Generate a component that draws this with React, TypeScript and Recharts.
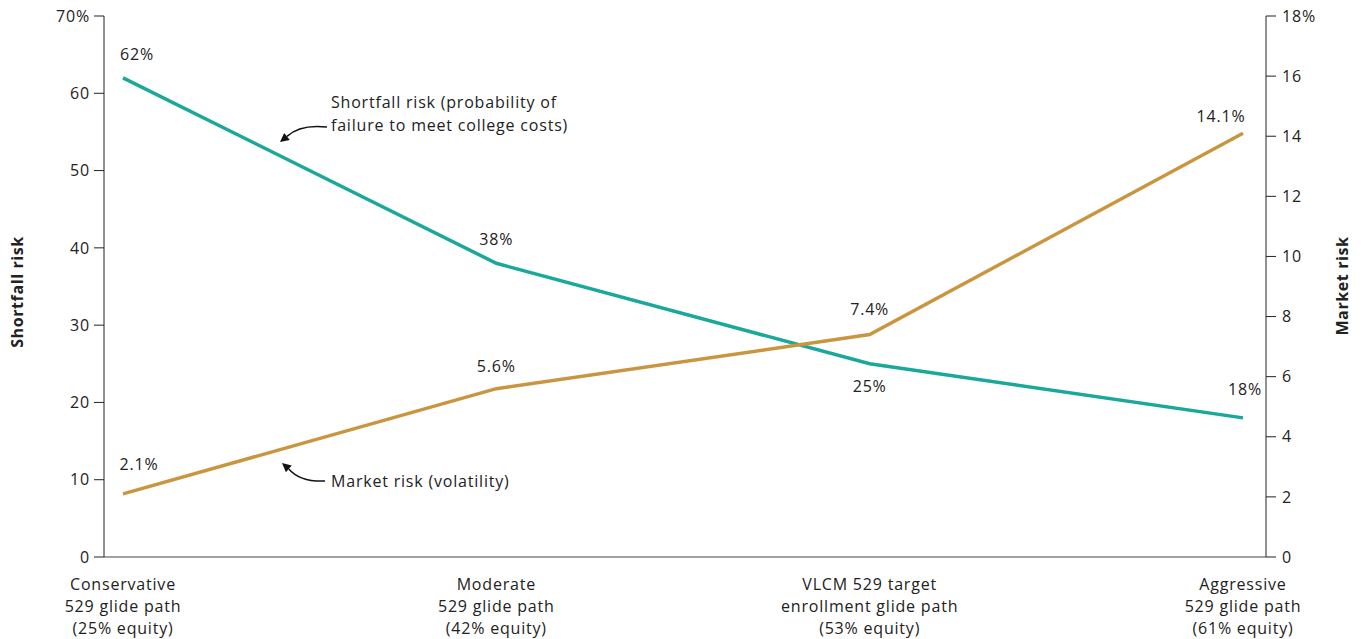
import React from 'react';
import { LineChart, Line, XAxis, YAxis, LabelList, Customized } from 'recharts';

// Glide path categories (multi-line tick labels)
const categories = [
  ['Conservative', '529 glide path', '(25% equity)'],
  ['Moderate', '529 glide path', '(42% equity)'],
  ['VLCM 529 target', 'enrollment glide path', '(53% equity)'],
  ['Aggressive', '529 glide path', '(61% equity)'],
];
const shortfallRisk = [62, 38, 25, 18];
const marketRisk = [2.1, 5.6, 7.4, 14.1];
const leftTicks = [0, 10, 20, 30, 40, 50, 60, 70];
const rightTicks = [0, 2, 4, 6, 8, 10, 12, 14, 16, 18];

const data = categories.map((c, i) => ({
  name: c.join('|'),
  shortfall: shortfallRisk[i],
  market: marketRisk[i],
}));

const FONT = '"Open Sans", "Noto Sans", sans-serif';
const LS = 0.8; // letter spacing to mimic the wider original face
const TEAL = '#1aa89b';
const GOLD = '#c9963f';
const TEXT = '#222';

// label nudges [dx, dy] per point
const shortfallLabelPos = [[14, -23], [0, -24], [0, 23], [2, -28]];
const marketLabelPos = [[16, -29], [0, -22], [0, -25], [-22, -17]];

const makeLabel = (pos: number[][], fmt: (v: number) => string) => (props: any) => {
  const { x, y, index, value } = props;
  const [dx, dy] = pos[index];
  return (
    <text x={x + dx} y={y + dy} dy="0.35em" textAnchor="middle" fontFamily={FONT} fontSize={16} letterSpacing={LS} fill={TEXT}>
      {fmt(value)}
    </text>
  );
};

const XTick = (props: any) => {
  const { x, y, payload } = props;
  const lines = String(payload.value).split('|');
  return (
    <g>
      {lines.map((l, i) => (
        <text key={i} x={x} y={y + 31 + i * 22} textAnchor="middle" fontFamily={FONT} fontSize={16} letterSpacing={LS} fill={TEXT}>
          {l}
        </text>
      ))}
    </g>
  );
};

const Annotations = () => (
  <g fontFamily={FONT} fontSize={16} fill={TEXT} letterSpacing={LS}>
    <text x={331} y={108}>Shortfall risk (probability of</text>
    <text x={331} y={131}>failure to meet college costs)</text>
    <path d="M 327 127 Q 300 124 287 136.4" fill="none" stroke="#111" strokeWidth={1.5} />
    <polygon points="280,142 289.8,139.9 284.2,132.9" fill="#111" />

    <text x={331} y={487}>Market risk (volatility)</text>
    <path d="M 325 481 Q 300 482 288.8 468.9" fill="none" stroke="#111" strokeWidth={1.5} />
    <polygon points="282,463 291.7,465.5 285.9,472.3" fill="#111" />

    <text x={17} y={292} dy="0.35em" transform="rotate(-90 17 292)" textAnchor="middle" fontWeight="bold" letterSpacing={0.6}>
      Shortfall risk
    </text>
    <text x={1342} y={286} dy="0.35em" transform="rotate(-90 1342 286)" textAnchor="middle" fontWeight="bold" letterSpacing={0.6}>
      Market risk
    </text>
  </g>
);

const tickStyle = { fontFamily: FONT, fontSize: 16, fill: TEXT, letterSpacing: LS };

export default function App() {
  return (
    <div style={{ position: 'absolute', left: 0, top: 0, background: '#fff' }}>
      <LineChart width={1361} height={639} data={data} margin={{ top: 16, right: 31, bottom: 0, left: 40 }}>
        <XAxis
          dataKey="name"
          height={82}
          padding={{ left: 19, right: 23 }}
          tickLine={false}
          tickSize={0}
          axisLine={{ stroke: '#444' }}
          tick={<XTick />}
          interval={0}
        />
        <YAxis
          yAxisId="left"
          width={64}
          domain={[0, 70]}
          ticks={leftTicks}
          tickSize={10}
          tickMargin={4}
          tick={tickStyle}
          axisLine={{ stroke: '#222' }}
          tickLine={{ stroke: '#222' }}
          tickFormatter={(v: number) => (v === 70 ? '70%' : String(v))}
          interval={0}
        />
        <YAxis
          yAxisId="right"
          orientation="right"
          width={64}
          domain={[0, 18]}
          ticks={rightTicks}
          tickSize={10}
          tickMargin={6}
          tick={tickStyle}
          axisLine={{ stroke: '#222' }}
          tickLine={{ stroke: '#222' }}
          tickFormatter={(v: number) => (v === 18 ? '18%' : String(v))}
          interval={0}
        />
        <Line
          yAxisId="left"
          dataKey="shortfall"
          stroke={TEAL}
          strokeWidth={3.5}
          dot={false}
          activeDot={false}
          isAnimationActive={false}
        >
          <LabelList dataKey="shortfall" content={makeLabel(shortfallLabelPos, (v) => `${v}%`)} />
        </Line>
        <Line
          yAxisId="right"
          dataKey="market"
          stroke={GOLD}
          strokeWidth={3.5}
          dot={false}
          activeDot={false}
          isAnimationActive={false}
        >
          <LabelList dataKey="market" content={makeLabel(marketLabelPos, (v) => `${v.toFixed(1)}%`)} />
        </Line>
        <Customized component={<Annotations />} />
      </LineChart>
    </div>
  );
}
